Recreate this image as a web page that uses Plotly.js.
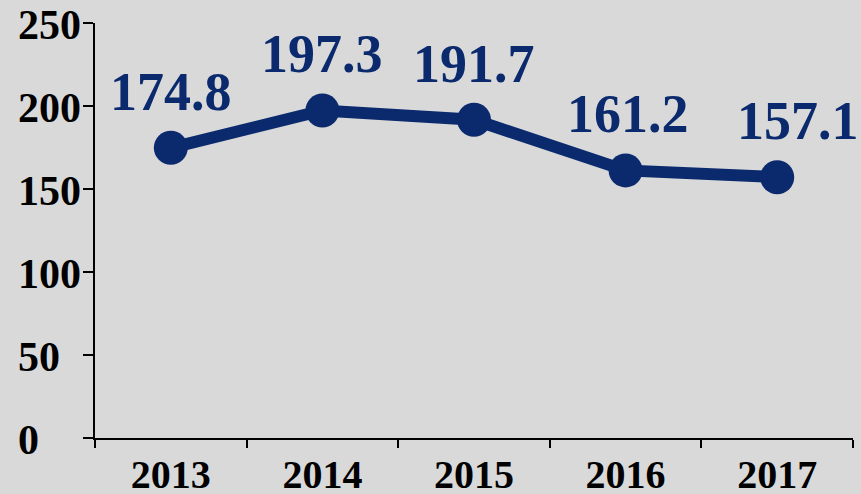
<!DOCTYPE html>
<html>
<head>
<meta charset="utf-8">
<script src="https://cdn.plot.ly/plotly-3.0.1.min.js"></script>
<style>html,body{margin:0;padding:0;background:#d9d9d9;}#chart{width:861px;height:494px;}</style>
</head>
<body>
<div id="chart"></div>
<script>
var years = ['2013', '2014', '2015', '2016', '2017'];
var values = [174.8, 197.3, 191.7, 161.2, 157.1];
var labelShift = [0, 0, 0, 2, 21];
var yTicks = [0, 50, 100, 150, 200, 250];

var navy = '#0b2a6e';
var serif = '"Liberation Serif", "Times New Roman", serif';

var idx = years.map(function (_, i) { return i; });
var bounds = [-0.5].concat(idx.map(function (i) { return i + 0.5; }));

var trace = {
  x: idx,
  y: values,
  type: 'scatter',
  mode: 'lines+markers',
  line: {color: navy, width: 12},
  marker: {color: navy, size: 34},
  hoverinfo: 'none',
  cliponaxis: false
};

var annotations = idx.map(function (i) {
  return {
    x: i, y: values[i], xref: 'x', yref: 'y',
    text: '<b>' + values[i].toFixed(1) + '</b>',
    showarrow: false, xanchor: 'center', yanchor: 'bottom',
    xshift: labelShift[i], yshift: 24,
    font: {family: serif, size: 54, color: navy}
  };
});

// left-aligned y tick labels (as in the reference)
yTicks.forEach(function (v) {
  annotations.push({
    x: 0, y: v, xref: 'paper', yref: 'y',
    text: '<b>' + v + '</b>',
    showarrow: false, xanchor: 'left', yanchor: 'middle',
    xshift: -79, yshift: -2,
    font: {family: serif, size: 42, color: '#000'}
  });
});

var layout = {
  width: 861, height: 494,
  margin: {l: 95, r: 8, t: 23, b: 56, pad: 0},
  paper_bgcolor: '#d9d9d9',
  plot_bgcolor: '#d9d9d9',
  showlegend: false,
  font: {family: serif, color: '#000'},
  xaxis: {
    type: 'linear',
    range: [-0.5, years.length - 0.5],
    tickmode: 'array',
    tickvals: idx,
    ticktext: years.map(function (y) { return '<b>' + y + '</b>'; }),
    showline: true, linecolor: '#000', linewidth: 2,
    ticks: '', ticklen: 0,
    minor: {tickmode: 'array', tickvals: bounds, ticks: 'outside', ticklen: 8, tickwidth: 2, tickcolor: '#000', showgrid: false},
    showgrid: false, zeroline: false,
    tickfont: {family: serif, size: 40, color: '#000'}
  },
  yaxis: {
    range: [0, 250],
    tickmode: 'array',
    tickvals: yTicks,
    showticklabels: false,
    showline: true, linecolor: '#000', linewidth: 2,
    ticks: 'outside', ticklen: 10, tickwidth: 2, tickcolor: '#000',
    showgrid: false, zeroline: false
  },
  annotations: annotations
};

Plotly.newPlot('chart', [trace], layout, {displayModeBar: false, staticPlot: true});
</script>
</body>
</html>
